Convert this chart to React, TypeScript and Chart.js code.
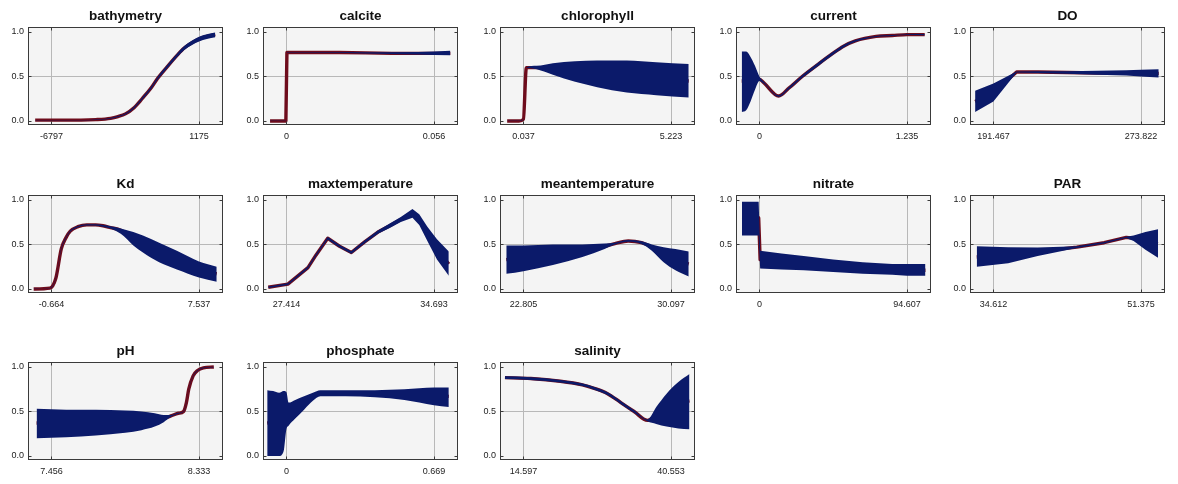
import React, { useEffect, useRef } from 'react';
import { Chart, registerables } from 'chart.js';

Chart.register(...registerables);

// ---------------- data ----------------
const BATHYMETRY_TICKS = [-6797, 1175];
const BATHYMETRY_X = [-7674, -6000, -5200, -4400, -3600, -3200, -2800, -2333, -1900, -1416, -1057, -500, 0, 378, 800, 1175, 1600, 2052];
const BATHYMETRY_MEAN = [0.01, 0.01, 0.01, 0.015, 0.03, 0.05, 0.08, 0.15, 0.25, 0.37, 0.48, 0.62, 0.74, 0.82, 0.88, 0.92, 0.95, 0.97];
const BATHYMETRY_LO = [0.008, 0.008, 0.008, 0.012, 0.025, 0.045, 0.073, 0.14, 0.238, 0.356, 0.465, 0.603, 0.722, 0.798, 0.855, 0.893, 0.92, 0.94];
const BATHYMETRY_HI = [0.012, 0.012, 0.012, 0.018, 0.035, 0.055, 0.087, 0.16, 0.262, 0.384, 0.495, 0.637, 0.758, 0.842, 0.905, 0.947, 0.975, 0.995];

const CALCITE_TICKS = [0, 0.056];
const CALCITE_X = [-0.0062, -0.0002, 0.0002, 0.005, 0.02, 0.03, 0.04, 0.05, 0.056, 0.0622];
const CALCITE_MEAN = [0.0, 0.0, 0.77, 0.77, 0.77, 0.765, 0.76, 0.76, 0.76, 0.76];
const CALCITE_LO = [0, 0, 0.768, 0.768, 0.766, 0.758, 0.752, 0.747, 0.742, 0.738];
const CALCITE_HI = [0.002, 0.002, 0.772, 0.772, 0.774, 0.772, 0.772, 0.776, 0.782, 0.788];

const CHLOROPHYLL_TICKS = [0.037, 5.223];
const CHLOROPHYLL_X = [-0.533, -0.119, 0.037, 0.141, 0.504, 1.074, 1.852, 2.63, 3.667, 4.704, 5.845];
const CHLOROPHYLL_MEAN = [0, 0, 0.02, 0.6, 0.6, 0.58, 0.55, 0.52, 0.5, 0.47, 0.45];
const CHLOROPHYLL_LO = [0, 0, 0.018, 0.598, 0.58, 0.52, 0.44, 0.38, 0.32, 0.29, 0.265];
const CHLOROPHYLL_HI = [0.002, 0.002, 0.022, 0.602, 0.62, 0.65, 0.67, 0.68, 0.68, 0.66, 0.64];

const CURRENT_TICKS = [0, 1.235];
const CURRENT_X = [-0.148, -0.111, -0.074, -0.037, 0, 0.037, 0.161, 0.247, 0.358, 0.494, 0.605, 0.704, 0.803, 0.976, 1.112, 1.235, 1.383];
const CURRENT_MEAN = [0.45, 0.45, 0.46, 0.47, 0.47, 0.43, 0.28, 0.37, 0.5, 0.64, 0.75, 0.84, 0.9, 0.95, 0.96, 0.97, 0.97];
const CURRENT_LO = [0.1, 0.12, 0.22, 0.35, 0.45, 0.42, 0.272, 0.358, 0.485, 0.622, 0.732, 0.825, 0.89, 0.945, 0.955, 0.965, 0.963];
const CURRENT_HI = [0.78, 0.78, 0.72, 0.62, 0.5, 0.44, 0.288, 0.382, 0.515, 0.658, 0.768, 0.855, 0.91, 0.955, 0.965, 0.975, 0.977];

const DO_TICKS = [191.467, 273.822];
const DO_X = [181.26, 191.467, 204.4, 216.2, 232.6, 249.1, 265.6, 273.8, 283.7];
const DO_MEAN = [0.22, 0.32, 0.55, 0.55, 0.545, 0.54, 0.54, 0.535, 0.535];
const DO_LO = [0.1, 0.22, 0.545, 0.54, 0.53, 0.52, 0.51, 0.5, 0.49];
const DO_HI = [0.34, 0.42, 0.555, 0.56, 0.56, 0.565, 0.57, 0.575, 0.58];

const KD_TICKS = [-0.664, 7.537];
const KD_X = [-1.648, -0.746, -0.418, -0.115, 0.156, 0.386, 0.812, 1.304, 1.796, 2.206, 2.616, 3.19, 3.888, 4.421, 5.323, 6.307, 7.537, 8.521];
const KD_MEAN = [0.0, 0.01, 0.12, 0.45, 0.58, 0.65, 0.7, 0.72, 0.72, 0.71, 0.69, 0.66, 0.57, 0.51, 0.41, 0.32, 0.22, 0.17];
const KD_LO = [0.0, 0.008, 0.115, 0.44, 0.572, 0.642, 0.693, 0.713, 0.712, 0.7, 0.68, 0.62, 0.49, 0.41, 0.3, 0.22, 0.13, 0.08];
const KD_HI = [0.002, 0.012, 0.125, 0.46, 0.588, 0.658, 0.707, 0.727, 0.728, 0.72, 0.705, 0.68, 0.64, 0.6, 0.52, 0.43, 0.31, 0.25];

const MAXTEMP_TICKS = [27.414, 34.693];
const MAXTEMP_X = [26.519, 27.487, 28.477, 28.87, 29.452, 30.034, 30.617, 31.272, 31.927, 32.509, 33.055, 33.63, 33.965, 34.366, 34.839, 35.421];
const MAXTEMP_MEAN = [0.02, 0.055, 0.24, 0.38, 0.57, 0.48, 0.41, 0.53, 0.64, 0.71, 0.78, 0.84, 0.78, 0.62, 0.45, 0.28];
const MAXTEMP_LO = [0.012, 0.045, 0.228, 0.367, 0.556, 0.466, 0.397, 0.515, 0.622, 0.685, 0.752, 0.8, 0.72, 0.54, 0.33, 0.15];
const MAXTEMP_HI = [0.028, 0.065, 0.252, 0.393, 0.584, 0.494, 0.423, 0.545, 0.658, 0.735, 0.81, 0.9, 0.84, 0.7, 0.56, 0.42];

const MEANTEMP_TICKS = [22.805, 30.097];
const MEANTEMP_X = [21.959, 22.805, 24.263, 25.722, 26.816, 27.326, 27.982, 28.639, 29.149, 29.732, 30.316, 30.972];
const MEANTEMP_MEAN = [0.33, 0.35, 0.39, 0.44, 0.48, 0.51, 0.54, 0.52, 0.47, 0.39, 0.33, 0.28];
const MEANTEMP_LO = [0.17, 0.2, 0.27, 0.36, 0.45, 0.5, 0.53, 0.505, 0.43, 0.3, 0.21, 0.14];
const MEANTEMP_HI = [0.49, 0.49, 0.5, 0.5, 0.51, 0.52, 0.55, 0.535, 0.5, 0.47, 0.45, 0.42];

const NITRATE_TICKS = [0, 94.607];
const NITRATE_X = [-11.16, -0.47, 0.47, 14.19, 28.38, 47.3, 66.22, 85.15, 94.607, 106.43];
const NITRATE_MEAN = [0.8, 0.8, 0.33, 0.31, 0.29, 0.26, 0.24, 0.22, 0.21, 0.21];
const NITRATE_LO = [0.6, 0.6, 0.23, 0.22, 0.21, 0.19, 0.17, 0.16, 0.15, 0.15];
const NITRATE_HI = [0.98, 0.98, 0.43, 0.4, 0.37, 0.33, 0.3, 0.28, 0.28, 0.28];

const PAR_TICKS = [34.612, 51.375];
const PAR_X = [32.718, 36.288, 39.641, 44.083, 47.184, 49.699, 50.537, 51.878, 53.303];
const PAR_MEAN = [0.36, 0.38, 0.42, 0.47, 0.52, 0.58, 0.57, 0.53, 0.51];
const PAR_LO = [0.25, 0.29, 0.37, 0.46, 0.512, 0.572, 0.54, 0.44, 0.35];
const PAR_HI = [0.48, 0.47, 0.465, 0.48, 0.528, 0.588, 0.6, 0.64, 0.67];

const PH_TICKS = [7.456, 8.333];
const PH_X = [7.368, 7.544, 7.719, 7.895, 7.991, 8.07, 8.123, 8.166, 8.21, 8.241, 8.258, 8.272, 8.298, 8.324, 8.359, 8.421];
const PH_MEAN = [0.37, 0.37, 0.37, 0.37, 0.38, 0.4, 0.42, 0.45, 0.48, 0.5, 0.6, 0.75, 0.9, 0.96, 0.99, 1.0];
const PH_LO = [0.2, 0.21, 0.23, 0.26, 0.29, 0.33, 0.38, 0.44, 0.475, 0.496, 0.596, 0.746, 0.896, 0.956, 0.986, 0.996];
const PH_HI = [0.53, 0.52, 0.52, 0.51, 0.5, 0.48, 0.46, 0.46, 0.485, 0.504, 0.604, 0.754, 0.904, 0.964, 0.994, 1.004];

const PHOSPHATE_TICKS = [0, 0.669];
const PHOSPHATE_X = [-0.087, -0.06, -0.033, -0.013, 0, 0.01, 0.04, 0.08, 0.12, 0.154, 0.268, 0.401, 0.535, 0.669, 0.736];
const PHOSPHATE_MEAN = [0.37, 0.38, 0.4, 0.43, 0.45, 0.47, 0.55, 0.62, 0.67, 0.7, 0.7, 0.7, 0.69, 0.68, 0.67];
const PHOSPHATE_LO = [0.0, 0.0, 0.0, 0.05, 0.3, 0.34, 0.42, 0.52, 0.62, 0.67, 0.67, 0.66, 0.63, 0.57, 0.55];
const PHOSPHATE_HI = [0.74, 0.73, 0.71, 0.73, 0.72, 0.6, 0.63, 0.67, 0.71, 0.74, 0.74, 0.74, 0.75, 0.77, 0.77];

const SALINITY_TICKS = [14.597, 40.553];
const SALINITY_X = [11.353, 15.895, 21.086, 24.979, 27.056, 29.392, 31.728, 34.064, 36.4, 37.957, 39.774, 41.851, 43.797];
const SALINITY_MEAN = [0.88, 0.87, 0.84, 0.8, 0.76, 0.7, 0.6, 0.5, 0.4, 0.46, 0.54, 0.6, 0.62];
const SALINITY_LO = [0.865, 0.855, 0.825, 0.785, 0.745, 0.685, 0.585, 0.487, 0.39, 0.36, 0.33, 0.31, 0.3];
const SALINITY_HI = [0.895, 0.885, 0.855, 0.815, 0.775, 0.715, 0.615, 0.513, 0.41, 0.55, 0.7, 0.83, 0.92];

const Y_TICKS = [0, 0.5, 1];

type Panel = { name: string; ticks: number[]; x: number[]; mean: number[]; lo: number[]; hi: number[] };

const PANELS: Panel[] = [
  { name: 'bathymetry', ticks: BATHYMETRY_TICKS, x: BATHYMETRY_X, mean: BATHYMETRY_MEAN, lo: BATHYMETRY_LO, hi: BATHYMETRY_HI },
  { name: 'calcite', ticks: CALCITE_TICKS, x: CALCITE_X, mean: CALCITE_MEAN, lo: CALCITE_LO, hi: CALCITE_HI },
  { name: 'chlorophyll', ticks: CHLOROPHYLL_TICKS, x: CHLOROPHYLL_X, mean: CHLOROPHYLL_MEAN, lo: CHLOROPHYLL_LO, hi: CHLOROPHYLL_HI },
  { name: 'current', ticks: CURRENT_TICKS, x: CURRENT_X, mean: CURRENT_MEAN, lo: CURRENT_LO, hi: CURRENT_HI },
  { name: 'DO', ticks: DO_TICKS, x: DO_X, mean: DO_MEAN, lo: DO_LO, hi: DO_HI },
  { name: 'Kd', ticks: KD_TICKS, x: KD_X, mean: KD_MEAN, lo: KD_LO, hi: KD_HI },
  { name: 'maxtemperature', ticks: MAXTEMP_TICKS, x: MAXTEMP_X, mean: MAXTEMP_MEAN, lo: MAXTEMP_LO, hi: MAXTEMP_HI },
  { name: 'meantemperature', ticks: MEANTEMP_TICKS, x: MEANTEMP_X, mean: MEANTEMP_MEAN, lo: MEANTEMP_LO, hi: MEANTEMP_HI },
  { name: 'nitrate', ticks: NITRATE_TICKS, x: NITRATE_X, mean: NITRATE_MEAN, lo: NITRATE_LO, hi: NITRATE_HI },
  { name: 'PAR', ticks: PAR_TICKS, x: PAR_X, mean: PAR_MEAN, lo: PAR_LO, hi: PAR_HI },
  { name: 'pH', ticks: PH_TICKS, x: PH_X, mean: PH_MEAN, lo: PH_LO, hi: PH_HI },
  { name: 'phosphate', ticks: PHOSPHATE_TICKS, x: PHOSPHATE_X, mean: PHOSPHATE_MEAN, lo: PHOSPHATE_LO, hi: PHOSPHATE_HI },
  { name: 'salinity', ticks: SALINITY_TICKS, x: SALINITY_X, mean: SALINITY_MEAN, lo: SALINITY_LO, hi: SALINITY_HI },
];

// ---------------- styling / layout ----------------
const SMOOTH = new Set(['bathymetry', 'chlorophyll', 'current', 'Kd', 'meantemperature', 'pH', 'phosphate', 'salinity']);
const COL_LEFT = [28, 263, 500, 736, 970];
const ROW_TOP = [27, 195, 362];
const BOX_W = 195;
const BOX_H = 98;
const PAD_L = 28;
const PAD_T = 27;
const XAX_H = 22;
const CANVAS_W = 235;
const CANVAS_H = PAD_T + BOX_H + XAX_H;
const FONT = '"Liberation Sans", Arial, Helvetica, sans-serif';
const RED = '#6e0c1c';
const NAVY = '#0b1a6a';
const GRID = '#b8b8b8';
const FRAME = '#3a3a3a';

const decorPlugin = {
  id: 'panelDecor',
  beforeDraw(chart: any) {
    const { ctx, chartArea: a } = chart;
    ctx.save();
    ctx.fillStyle = '#f4f4f4';
    ctx.fillRect(a.left, a.top, a.right - a.left, a.bottom - a.top);
    ctx.restore();
  },
  afterDraw(chart: any, _args: any, opts: any) {
    const { ctx, chartArea: a } = chart;
    const L = Math.round(a.left) + 0.5;
    const R = Math.round(a.right) - 0.5;
    const T = Math.round(a.top) + 0.5;
    const B = Math.round(a.bottom) - 0.5;
    ctx.save();
    ctx.strokeStyle = FRAME;
    ctx.lineWidth = 1;
    ctx.strokeRect(L, T, R - L, B - T);
    ctx.beginPath();
    const ys = chart.scales.y;
    for (const t of ys.ticks) {
      const p = Math.round(ys.getPixelForValue(t.value)) + 0.5;
      ctx.moveTo(L, p); ctx.lineTo(L + 3, p);
      ctx.moveTo(R, p); ctx.lineTo(R - 3, p);
    }
    const xs = chart.scales.x;
    for (const t of xs.ticks) {
      const p = Math.round(xs.getPixelForValue(t.value)) + 0.5;
      ctx.moveTo(p, B); ctx.lineTo(p, B - 3);
      ctx.moveTo(p, T); ctx.lineTo(p, T + 3);
    }
    ctx.stroke();
    ctx.fillStyle = '#111';
    ctx.font = `bold 13.5px ${FONT}`;
    ctx.textAlign = 'center';
    ctx.textBaseline = 'alphabetic';
    ctx.fillText(opts.title, (a.left + a.right) / 2, a.top - 7);
    ctx.restore();
  },
};

function PanelChart({ panel, left, top }: { panel: Panel; left: number; top: number }) {
  const ref = useRef<HTMLCanvasElement | null>(null);
  useEffect(() => {
    if (!ref.current) return;
    const [t0, t1] = panel.ticks;
    const range = (t1 - t0) / 0.757;
    const xmin = t0 - 0.12 * range;
    const xmax = xmin + range;
    const mode = SMOOTH.has(panel.name) ? 'monotone' : 'default';
    const pts = (ys: number[]) => panel.x.map((xv, k) => ({ x: xv, y: ys[k] }));
    const chart = new Chart(ref.current, {
      type: 'line',
      data: {
        datasets: [
          { label: 'mean', data: pts(panel.mean), borderColor: RED, borderWidth: 3.4, pointRadius: 0, fill: false, order: 2, cubicInterpolationMode: mode as any, borderJoinStyle: 'round' },
          { label: 'upper', data: pts(panel.hi), borderColor: NAVY, backgroundColor: NAVY, borderWidth: 0, pointRadius: 0, fill: '+1', order: 1, cubicInterpolationMode: mode as any },
          { label: 'lower', data: pts(panel.lo), borderColor: NAVY, borderWidth: 0, pointRadius: 0, fill: false, order: 1, cubicInterpolationMode: mode as any },
        ],
      },
      options: {
        responsive: false,
        animation: false,
        events: [],
        layout: { padding: { top: PAD_T, right: CANVAS_W - PAD_L - BOX_W, bottom: 0, left: 0 } },
        plugins: {
          legend: { display: false },
          tooltip: { enabled: false },
          title: { display: false },
          panelDecor: { title: panel.name },
        } as any,
        scales: {
          x: {
            type: 'linear',
            min: xmin,
            max: xmax,
            afterBuildTicks: (s: any) => { s.ticks = panel.ticks.map((v) => ({ value: v })); },
            afterFit: (s: any) => { s.height = XAX_H; },
            ticks: {
              callback: (_v: any, i: number) => String(panel.ticks[i]),
              font: { family: FONT, size: 9 },
              color: '#222',
              padding: 6,
              maxRotation: 0,
              autoSkip: false,
            },
            grid: { color: GRID, lineWidth: 1, drawTicks: false },
            border: { display: false },
          },
          y: {
            type: 'linear',
            min: -0.045,
            max: 1.056,
            afterBuildTicks: (s: any) => { s.ticks = Y_TICKS.map((v) => ({ value: v })); },
            afterFit: (s: any) => { s.width = PAD_L; },
            ticks: {
              callback: (v: any) => Number(v).toFixed(1),
              font: { family: FONT, size: 9 },
              color: '#222',
              padding: 4,
            },
            grid: {
              color: (c: any) => (c.tick && c.tick.value === 0.5 ? GRID : 'rgba(0,0,0,0)'),
              lineWidth: 1,
              drawTicks: false,
            },
            border: { display: false },
          },
        },
      },
      plugins: [decorPlugin],
    } as any);
    return () => chart.destroy();
  }, [panel]);
  return (
    <canvas
      ref={ref}
      width={CANVAS_W}
      height={CANVAS_H}
      style={{ position: 'absolute', left, top, width: CANVAS_W, height: CANVAS_H }}
    />
  );
}

export default function App() {
  return (
    <div style={{ position: 'absolute', left: 0, top: 0, width: 1178, height: 484, background: '#ffffff', overflow: 'hidden' }}>
      {PANELS.map((p, i) => {
        const col = i % 5;
        const row = Math.floor(i / 5);
        return <PanelChart key={p.name} panel={p} left={COL_LEFT[col] - PAD_L} top={ROW_TOP[row] - PAD_T} />;
      })}
    </div>
  );
}
